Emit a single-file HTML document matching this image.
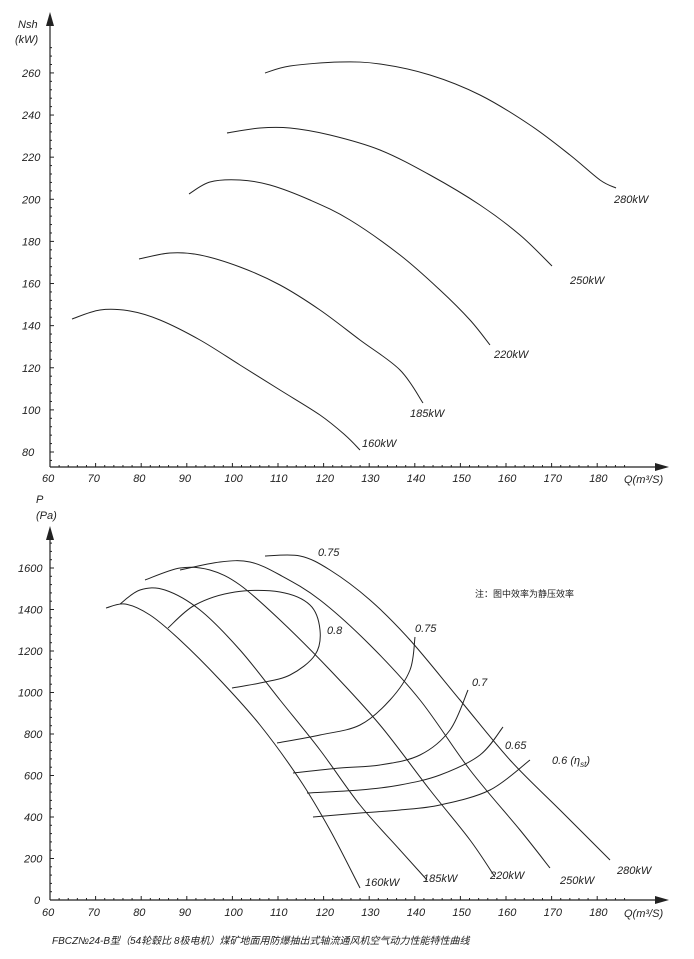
<!DOCTYPE html>
<html><head><meta charset="utf-8"><style>
body{margin:0;background:#fff}
svg{display:block}
text{font-family:"Liberation Sans","Noto Sans CJK SC",sans-serif;font-style:italic;font-size:11px;fill:#222}
.c{fill:none;stroke:#222;stroke-width:1;stroke-linejoin:round}
</style></head><body>
<svg id="s" width="694" height="959" viewBox="0 0 694 959" xmlns="http://www.w3.org/2000/svg">
<g id="ax" stroke="#222" stroke-width="1.2">
<line x1="50" y1="467" x2="50" y2="20"/>
<line x1="50" y1="467" x2="660" y2="467"/>
<line x1="50" y1="900" x2="50" y2="535"/>
<line x1="50" y1="900" x2="660" y2="900"/>
</g>
<polygon points="50,12 46,26 54,26" fill="#222"/>
<polygon points="669,467 655,463 655,471" fill="#222"/>
<polygon points="50,526 46,540 54,540" fill="#222"/>
<polygon points="669,900 655,896 655,904" fill="#222"/>
<text x="18" y="28">Nsh</text><text x="15" y="43">(kW)</text>
<text x="36" y="503">P</text><text x="36" y="519">(Pa)</text>
<text x="624" y="483">Q(m³/S)</text>
<text x="624" y="917">Q(m³/S)</text>
<g id="tk"></g>
<g id="cv">
<polyline class="c" points="72,319 100,310 130,311 160,320 200,340 240,365 280,390 320,415 345,435 360,450"/>
<polyline class="c" points="139,259 170,253 200,255 240,267 280,285 320,310 360,340 400,370 423,403"/>
<polyline class="c" points="189,194 210,182 240,180 270,185 310,200 350,220 400,255 440,290 470,320 490,345"/>
<polyline class="c" points="227,133 260,128 290,128 330,135 380,150 430,175 480,205 520,235 552,266"/>
<polyline class="c" points="265,73 290,66 340,62 380,64 430,75 480,95 530,125 570,155 600,180 616,188"/>
<polyline class="c" points="106,608 125,604 150,615 180,640 220,680 260,725 300,780 330,830 360,888"/>
<polyline class="c" points="120,604 140,590 165,590 200,610 240,650 280,700 320,750 360,805 400,850 427,880"/>
<polyline class="c" points="145,580 180,568 210,570 240,585 280,620 330,670 380,725 430,790 470,840 495,877"/>
<polyline class="c" points="180,570 220,562 250,562 280,575 320,600 370,645 420,700 470,770 520,830 550,868"/>
<polyline class="c" points="265,556 300,556 330,570 370,600 410,640 460,700 510,760 560,810 610,860"/>
<polyline class="c" points="168,628 195,605 235,592 280,592 310,605 320,630 315,655 290,675 260,683 232,688"/>
<polyline class="c" points="277,743 320,735 360,725 390,700 410,670 415,637"/>
<polyline class="c" points="293,773 340,768 380,765 420,755 450,730 468,690"/>
<polyline class="c" points="307,793 360,790 400,785 440,775 480,755 503,727"/>
<polyline class="c" points="313,817 360,813 400,810 440,805 490,790 530,760"/>
</g>
<text x="362" y="447">160kW</text><text x="410" y="417">185kW</text><text x="494" y="358">220kW</text><text x="570" y="284">250kW</text><text x="614" y="203">280kW</text>
<text x="318" y="556">0.75</text><text x="327" y="634">0.8</text><text x="415" y="632">0.75</text><text x="472" y="686">0.7</text><text x="505" y="749">0.65</text><text x="552" y="764">0.6 (η<tspan font-size="8" dy="3">st</tspan><tspan dy="-3">)</tspan></text>
<text x="475" y="597" style="font-style:normal;font-size:9px">注：图中效率为静压效率</text>
<text x="365" y="886">160kW</text><text x="423" y="882">185kW</text><text x="490" y="879">220kW</text><text x="560" y="884">250kW</text><text x="617" y="874">280kW</text>
<text x="52" y="944" style="font-size:10px">FBCZ№24-B型（54轮毂比 8极电机）煤矿地面用防爆抽出式轴流通风机空气动力性能特性曲线</text>
</svg>
<script>
var g=document.getElementById('tk'),s='';
function X(q){return 50+(q-60)*4.56}
for(var q=60;q<=186;q+=2){var x=X(q);var L=(q%10==0)?4:2;
s+='<line x1="'+x+'" y1="467" x2="'+x+'" y2="'+(467-L)+'" stroke="#222"/>';
s+='<line x1="'+x+'" y1="900" x2="'+x+'" y2="'+(900-L)+'" stroke="#222"/>';
if(q%10==0&&q<=180){s+='<text x="'+(x-8)+'" y="482">'+q+'</text><text x="'+(x-8)+'" y="916">'+q+'</text>';}}
for(var n=76;n<=272;n+=4){var y=452-(n-80)*2.106;var L=(n%20==0)?4:2;
s+='<line x1="50" y1="'+y+'" x2="'+(50+L)+'" y2="'+y+'" stroke="#222"/>';
if(n%20==0&&n>=80&&n<=260)s+='<text x="22" y="'+(y+4)+'">'+n+'</text>';}
for(var p=0;p<=1720;p+=40){var y=900-p*0.2075;var L=(p%200==0)?4:2;
s+='<line x1="50" y1="'+y+'" x2="'+(50+L)+'" y2="'+y+'" stroke="#222"/>';
if(p%200==0&&p<=1600)s+='<text x="'+(p==0?34:p<1000?24:18)+'" y="'+(y+4)+'">'+p+'</text>';}
g.innerHTML=s;
var cv=document.getElementById('cv'),out='';
cv.querySelectorAll('polyline').forEach(function(pl){
var P=pl.getAttribute('points').trim().split(/\s+/).map(function(t){return t.split(',').map(Number)});
var d='M'+P[0][0]+','+P[0][1];
for(var i=0;i<P.length-1;i++){var p0=P[i-1]||P[i],p1=P[i],p2=P[i+1],p3=P[i+2]||p2;
d+=' C'+(p1[0]+(p2[0]-p0[0])/6)+','+(p1[1]+(p2[1]-p0[1])/6)+' '+(p2[0]-(p3[0]-p1[0])/6)+','+(p2[1]-(p3[1]-p1[1])/6)+' '+p2[0]+','+p2[1];}
out+='<path class="c" d="'+d+'"/>';});
cv.innerHTML=out;
</script>
</body></html>
